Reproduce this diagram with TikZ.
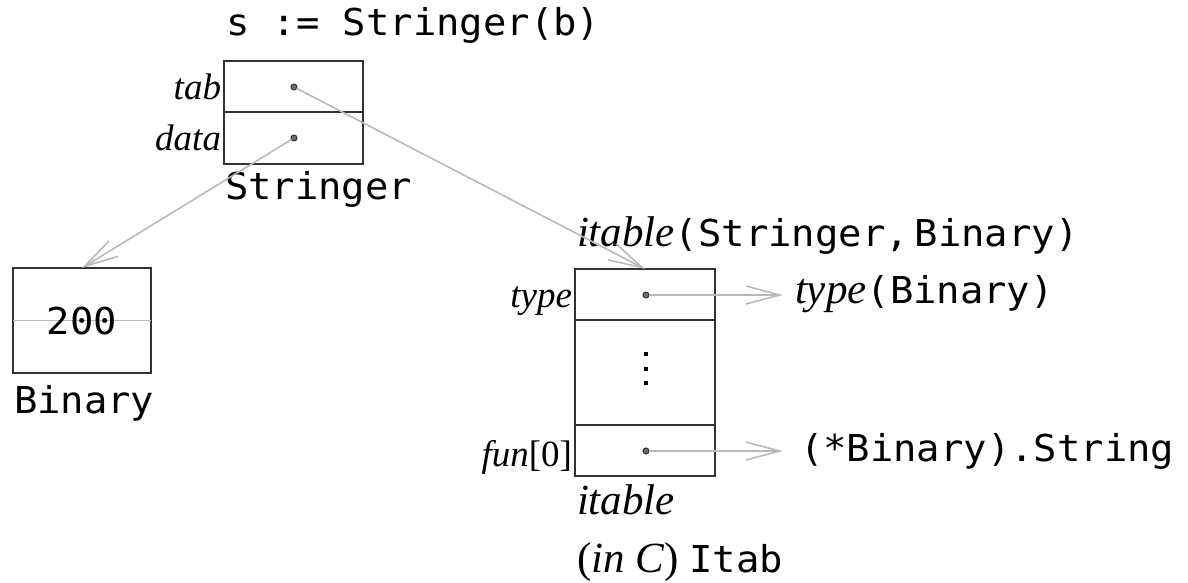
\documentclass[tikz,border=0pt]{standalone}
\usepackage{fontspec}
\setmainfont{Liberation Serif}
\newfontfamily\mono[FakeStretch=1.05]{DejaVu Sans Mono}
\usetikzlibrary{arrows.meta}
\definecolor{boxc}{RGB}{50,50,50}
\definecolor{ptrc}{RGB}{185,185,185}
\definecolor{dotc}{RGB}{110,110,110}
\newcommand{\mt}{\mono\fontsize{37}{37}\selectfont}
\newcommand{\bigit}{\fontsize{43}{43}\selectfont\itshape}
\newcommand{\bigrm}{\fontsize{43}{43}\selectfont\upshape}
\newcommand{\smit}{\fontsize{37}{37}\selectfont\itshape}
\newcommand{\smrm}{\fontsize{37}{37}\selectfont\upshape}
\tikzset{
  field/.style={draw=boxc, line width=2.4pt, inner sep=0pt, outer sep=0pt, rectangle},
  dotn/.style={circle, draw=boxc, fill=dotc, line width=1pt, minimum size=6pt, inner sep=0pt, outer sep=0pt},
  ptr/.style={draw=ptrc, line width=1.6pt, -{Straight Barb[length=34pt,width=18pt,line width=1.6pt]}},
  txt/.style={inner sep=0pt, outer sep=0pt, anchor=base west},
  lab/.style={inner sep=0pt, outer sep=0pt, anchor=base east},
}
\begin{document}
\begin{tikzpicture}[x=1pt,y=-1pt]
\useasboundingbox (0,0) rectangle (1188,583);
% Stringer record
\node[field, minimum width=139pt, minimum height=51pt] (tabf) at (293.5,86.5) {};
\node[field, minimum width=139pt, minimum height=52pt] (dataf) at (293.5,138) {};
\node[dotn] (tabdot) at (294,87) {};
\node[dotn] (datadot) at (294,138) {};
\node[txt] (title) at (226,36) {\mt s := Stringer(b)};
\node[lab] (tabl) at (221,100) {\smit tab};
\node[lab] (datal) at (221,150) {\smit data};
\node[txt] (strl) at (225,199) {\mt Stringer};
% Binary
\node[field, minimum width=138pt, minimum height=105pt] (bin) at (82,320.5) {};
\draw[ptrc, line width=1.6pt] (bin.west) -- (bin.east);
\node[inner sep=0pt, fill=none] (binv) at (82,321) {\mt 200};
\node[txt] (binl) at (14,413) {\mt Binary};
% itable
\node[txt] (itl) at (577,246) {\bigit itable\upshape{\mt(Stringer,\hspace{6pt}Binary)}};
\node[field, minimum width=140pt, minimum height=51pt] (typef) at (645,294.5) {};
\node[field, minimum width=140pt, minimum height=105pt] (midf) at (645,372.5) {};
\node[field, minimum width=140pt, minimum height=51pt] (funf) at (645,450.5) {};
\node[dotn] (typedot) at (646,295) {};
\node[dotn] (fundot) at (646,451) {};
\fill[black] (644,352) rectangle (648,356);
\fill[black] (644,367) rectangle (648,371);
\fill[black] (644,381) rectangle (648,385);
\node[lab] (typel) at (572,307) {\smit type};
\node[lab] (funl) at (572,466) {\smit fun\smrm[0]};
\node[txt] (itl2) at (577,514) {\bigit itable};
\node[txt] (itl3) at (577,572) {\bigrm(\bigit in C\bigrm) {\mt Itab}};
% targets
\coordinate (typet) at (783,295);
\coordinate (funt) at (783,451);
\node[txt] (typetx) at (795,303) {\bigit type\upshape{\mt(Binary)}};
\node[txt] (funtx) at (800,461) {\mt(*Binary).String};
% pointers
\draw[ptr] (datadot) -- (bin.north);
\draw[ptr] (tabdot) -- (typef.north);
\draw[ptr] (typedot) -- (typet);
\draw[ptr] (fundot) -- (funt);
\end{tikzpicture}
\end{document}
